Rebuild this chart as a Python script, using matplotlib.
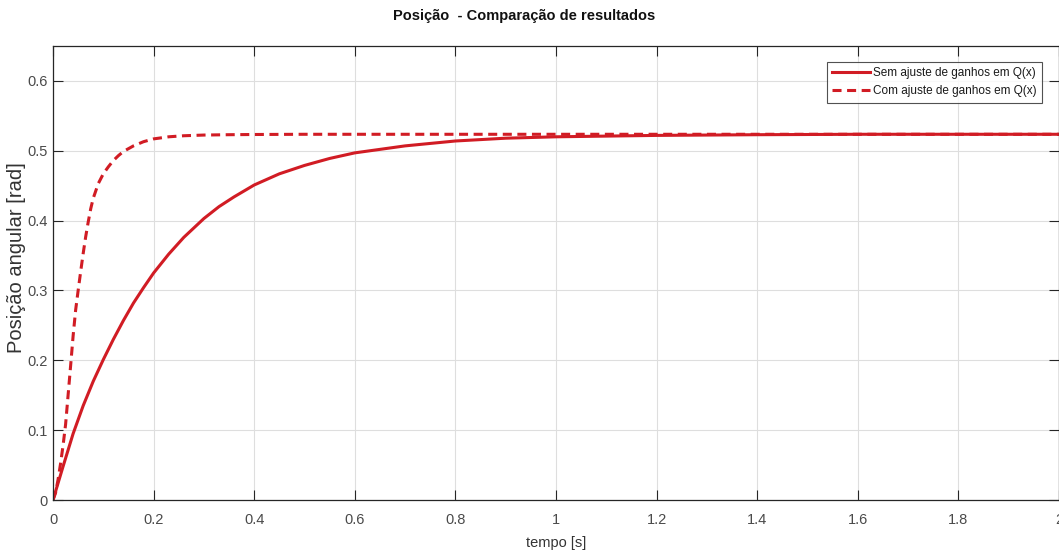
import matplotlib
matplotlib.use('Agg')
import matplotlib.pyplot as plt

plt.rcParams['font.family'] = ['Liberation Sans', 'DejaVu Sans']
plt.rcParams['lines.scale_dashes'] = False

# posicao sem ajuste de ganhos em Q(x)
t_sem = [0, 0.02, 0.04, 0.06, 0.08, 0.10, 0.12, 0.14, 0.16, 0.18, 0.20, 0.23,
         0.26, 0.30, 0.33, 0.36, 0.40, 0.45, 0.50, 0.55, 0.60, 0.70, 0.80, 0.90,
         1.0, 1.1, 1.2, 1.4, 1.6, 1.8, 2.0]
pos_sem = [0, 0.048, 0.095, 0.135, 0.170, 0.201, 0.230, 0.257, 0.282, 0.304, 0.325,
           0.352, 0.376, 0.403, 0.420, 0.434, 0.451, 0.467, 0.479, 0.489, 0.497,
           0.507, 0.514, 0.518, 0.520, 0.521, 0.522, 0.523, 0.5236, 0.5236, 0.5236]

# posicao com ajuste de ganhos em Q(x)
t_com = [0, 0.005, 0.01, 0.015, 0.02, 0.025, 0.03, 0.035, 0.04, 0.045, 0.05, 0.055,
         0.06, 0.065, 0.07, 0.075, 0.08, 0.09, 0.10, 0.11, 0.12, 0.13, 0.14, 0.16,
         0.18, 0.20, 0.23, 0.26, 0.30, 0.35, 0.4, 0.5, 0.6, 1.0, 1.5, 2.0]
pos_com = [0, 0.010, 0.029, 0.052, 0.078, 0.108, 0.150, 0.192, 0.235, 0.272, 0.300,
           0.327, 0.353, 0.377, 0.398, 0.417, 0.432, 0.453, 0.467, 0.477, 0.486,
           0.493, 0.499, 0.507, 0.513, 0.517, 0.520, 0.5215, 0.5225, 0.523, 0.5233,
           0.5236, 0.5236, 0.5236, 0.5236, 0.5236]

xticks = [0, 0.2, 0.4, 0.6, 0.8, 1, 1.2, 1.4, 1.6, 1.8, 2]
xtick_labels = ['0', '0.2', '0.4', '0.6', '0.8', '1', '1.2', '1.4', '1.6', '1.8', '2']
yticks = [0, 0.1, 0.2, 0.3, 0.4, 0.5, 0.6]
ytick_labels = ['0', '0.1', '0.2', '0.3', '0.4', '0.5', '0.6']

red = '#d11c24'

fig = plt.figure(figsize=(10.59, 5.51), dpi=100)
ax = fig.add_axes([53/1059, 1 - 500/551, 1006/1059, 454/551])

ax.plot(t_sem, pos_sem, color=red, lw=2.2, label='Sem ajuste de ganhos em Q(x)')
ax.plot(t_com, pos_com, color=red, lw=2.2, dashes=(6.5, 4),
        label='Com ajuste de ganhos em Q(x)')

ax.set_xlim(0, 2)
ax.set_ylim(0, 0.65)
ax.set_xticks(xticks)
ax.set_xticklabels(xtick_labels)
ax.set_yticks(yticks)
ax.set_yticklabels(ytick_labels)

ax.grid(True, color='#dedede', lw=0.8)
ax.set_axisbelow(True)
ax.tick_params(direction='in', length=7.5, width=0.8, top=True, right=True,
               labelsize=10.5, colors='#262626', labelcolor='#4a4a4a')
ax.tick_params(axis='x', pad=9)
ax.tick_params(axis='y', pad=4)
for s in ax.spines.values():
    s.set_color('#262626')
    s.set_linewidth(0.9)

ax.set_title('Posição  - Comparação de resultados', fontsize=10.5, fontweight='bold',
             color='#111111', x=0.468, pad=19)
ax.set_xlabel('tempo [s]', fontsize=10.5, color='#333333', labelpad=7)
ax.set_ylabel('Posição angular [rad]', fontsize=14.5, color='#333333')
ax.yaxis.set_label_coords(-0.027, 0.533)

leg = ax.legend(loc='upper right', bbox_to_anchor=(0.983, 0.965), fontsize=8.5,
                frameon=True, fancybox=False, handlelength=3.2, handletextpad=0.3,
                borderpad=0.44, labelspacing=0.53, borderaxespad=0)
leg.get_frame().set_edgecolor('#262626')
leg.get_frame().set_linewidth(0.8)
for txt in leg.get_texts():
    txt.set_color('#1a1a1a')

fig.savefig('out.png', dpi=100)
